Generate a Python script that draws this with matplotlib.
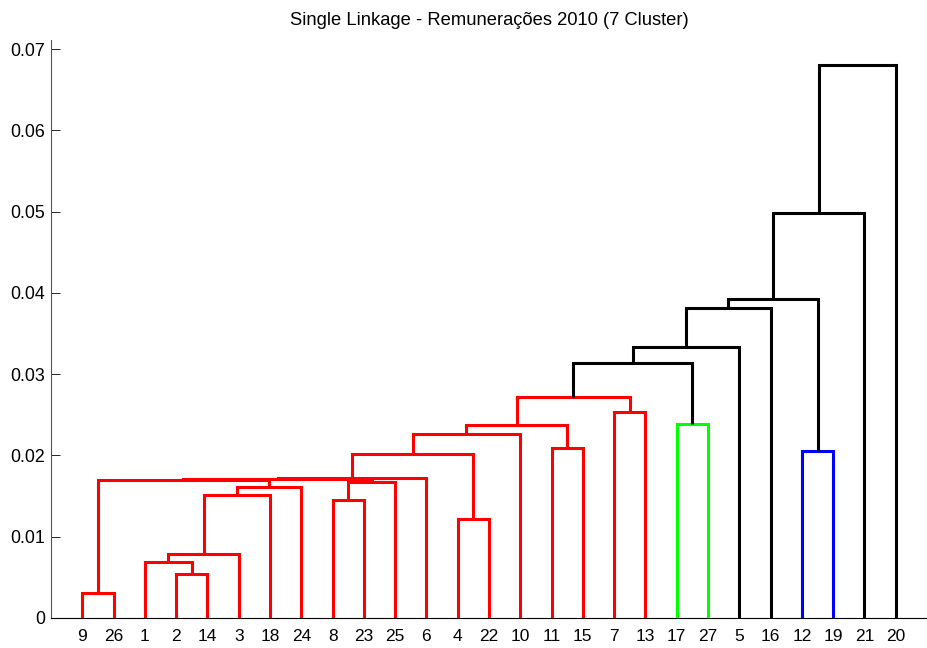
import matplotlib
matplotlib.use("Agg")
import matplotlib.pyplot as plt

# Leaf order along the x axis and the labels printed under each leaf
leaf_order = [9, 26, 1, 2, 14, 3, 18, 24, 8, 23, 25, 6, 4, 22, 10, 11, 15,
              7, 13, 17, 27, 5, 16, 12, 19, 21, 20]
n_leaves = 27

# Linkage rows: (left node, right node, merge height).
# Leaves are 1..27, merged clusters are numbered 28, 29, ... in row order.
links = [
    (9, 26, 0.00311),   # 28
    (2, 14, 0.00538),   # 29
    (1, 29, 0.00693),   # 30
    (30, 3, 0.00784),   # 31
    (4, 22, 0.01218),   # 32
    (8, 23, 0.01448),   # 33
    (31, 18, 0.01513),  # 34
    (34, 24, 0.01615),  # 35
    (33, 25, 0.01670),  # 36
    (28, 35, 0.01698),  # 37
    (37, 36, 0.01716),  # 38
    (38, 6, 0.01728),   # 39
    (39, 32, 0.02024),  # 40
    (12, 19, 0.02058),  # 41
    (11, 15, 0.02088),  # 42
    (40, 10, 0.02267),  # 43
    (43, 42, 0.02370),  # 44
    (17, 27, 0.02390),  # 45
    (7, 13, 0.02530),   # 46
    (44, 46, 0.02722),  # 47
    (47, 45, 0.03141),  # 48
    (48, 5, 0.03330),   # 49
    (49, 16, 0.03814),  # 50
    (50, 41, 0.03920),  # 51
    (51, 21, 0.04986),  # 52
    (52, 20, 0.06800),  # 53
]
color_threshold = 0.030
group_colors = ["#ff0000", "#00ff00", "#0000ff"]
title = "Single Linkage - Remunerações 2010 (7 Cluster)"

plt.rcParams["font.family"] = ["Liberation Sans", "DejaVu Sans"]

# node positions
xpos = {leaf: i + 1 for i, leaf in enumerate(leaf_order)}
height = {leaf: 0.0 for leaf in leaf_order}
children = {}
for k, (a, b, h) in enumerate(links):
    node = n_leaves + 1 + k
    xpos[node] = (xpos[a] + xpos[b]) / 2.0
    height[node] = h
    children[node] = (a, b)

# colour groups: highest links below threshold define a cluster
parent = {}
for node, (a, b) in children.items():
    parent[a] = node
    parent[b] = node

def group_root(node):
    while node in parent and height[parent[node]] < color_threshold:
        node = parent[node]
    return node

roots = sorted({group_root(n) for n in children if height[n] < color_threshold},
               key=lambda r: xpos[r])
root_color = {r: group_colors[i % len(group_colors)] for i, r in enumerate(roots)}

fig = plt.figure(figsize=(9.27, 6.48), dpi=100)
ax = fig.add_axes([51 / 927, 30 / 648, 1 - 51 / 927, (618 - 40) / 648])

for node, (a, b) in children.items():
    h = height[node]
    col = root_color[group_root(node)] if h < color_threshold else "black"
    ax.plot([xpos[a], xpos[a], xpos[b], xpos[b]],
            [height[a], h, h, height[b]],
            color=col, lw=2.2, solid_capstyle="butt", solid_joinstyle="miter",
            zorder=3)

ax.set_xlim(0, n_leaves + 1)
ax.set_ylim(0, links[-1][2] * 1.046)
ax.set_xticks(range(1, n_leaves + 1))
ax.set_xticklabels([str(l) for l in leaf_order])
ax.set_yticks([0, 0.01, 0.02, 0.03, 0.04, 0.05, 0.06, 0.07])
ax.set_yticklabels(["0", "0.01", "0.02", "0.03", "0.04", "0.05", "0.06", "0.07"])
ax.tick_params(axis="x", direction="in", length=6.5, width=0.6, pad=8,
               labelsize=12.5, colors="black")
ax.tick_params(axis="y", direction="in", length=6.5, width=0.6, pad=4,
               labelsize=12.8, colors="black")
ax.set_axisbelow(True)
for side in ("top", "right"):
    ax.spines[side].set_visible(False)
ax.spines["left"].set_linewidth(0.8)
ax.spines["left"].set_color("#555555")
ax.spines["bottom"].set_linewidth(0.8)
ax.spines["bottom"].set_color("black")
ax.set_title(title, fontsize=13.2, pad=11)

fig.savefig("out.png", dpi=100)
